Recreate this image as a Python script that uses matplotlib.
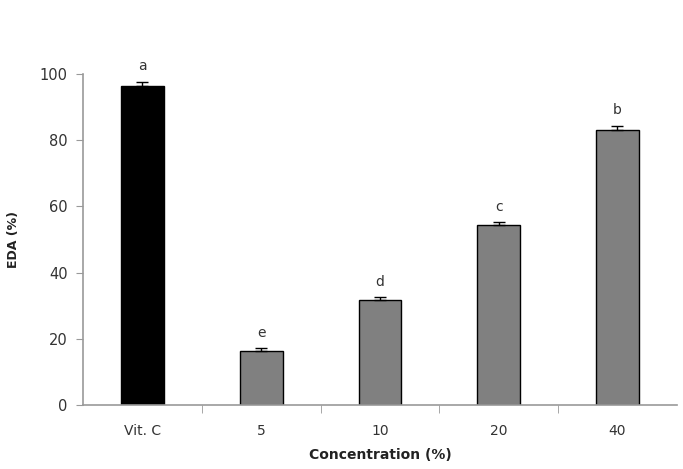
import matplotlib
matplotlib.use("Agg")
import matplotlib.pyplot as plt
import numpy as np

categories = ["Vit. C", "5", "10", "20", "40"]
values = [96.5, 16.3, 31.7, 54.4, 83.1]
errors = [1.2, 0.8, 0.9, 0.8, 1.3]
letters = ["a", "e", "d", "c", "b"]
colors = ["#000000", "#808080", "#808080", "#808080", "#808080"]

fig = plt.figure(figsize=(6.83, 4.69), dpi=100)
ax = fig.add_axes([0.1215, 0.1365, 0.8695, 0.7055])

x = np.arange(len(categories))
ax.bar(x, values, width=0.36, color=colors, edgecolor="black", linewidth=1.0, zorder=2)
ax.errorbar(x, values, yerr=[np.zeros(len(errors)), errors], fmt="none",
            ecolor="black", elinewidth=1.0, capsize=4, capthick=1.0, zorder=3)
for xi, v, e, l in zip(x, values, errors, letters):
    ax.text(xi, v + e + 2.5, l, ha="center", va="bottom", fontsize=10, color="#333333")

ax.set_xlim(-0.5, len(categories) - 0.5)
ax.set_ylim(0, 100)
ax.set_yticks(np.arange(0, 101, 20))
ax.set_xticks(x)
ax.set_xticklabels(categories)
ax.set_xticks(np.arange(0.5, len(categories) - 0.5, 1), minor=True)
ax.tick_params(axis="x", which="major", length=0, pad=14, labelsize=10, labelcolor="#333333")
ax.tick_params(axis="x", which="minor", length=6, direction="out", color="#999999")
ax.tick_params(axis="y", length=5, direction="out", color="#999999", labelsize=10.5, labelcolor="#333333", pad=6)

for s in ["top", "right"]:
    ax.spines[s].set_visible(False)
for s in ["left", "bottom"]:
    ax.spines[s].set_color("#999999")
    ax.spines[s].set_linewidth(1.2)

ax.set_ylabel("EDA (%)", fontsize=9, fontweight="bold", color="#222222", labelpad=14)
ax.set_xlabel("Concentration (%)", fontsize=10, fontweight="bold", color="#222222", labelpad=7)

fig.savefig("out.png", dpi=100)
